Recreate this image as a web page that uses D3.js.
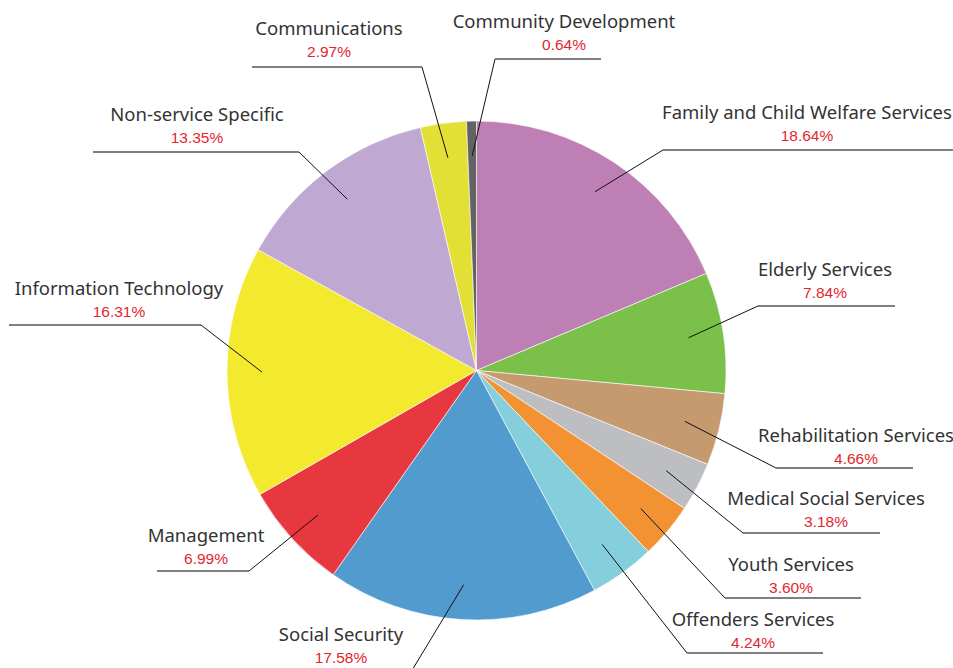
<!DOCTYPE html>
<html>
<head>
<meta charset="utf-8">
<script src="https://cdn.jsdelivr.net/npm/d3@7"></script>
<style>
  html, body { margin: 0; padding: 0; background: #fff; overflow: hidden; }
</style>
</head>
<body>
<svg id="chart" width="953" height="668"></svg>
<script>
// Slices, clockwise from 12 o'clock
const categories = [
  'Family and Child Welfare Services', 'Elderly Services', 'Rehabilitation Services',
  'Medical Social Services', 'Youth Services', 'Offenders Services', 'Social Security',
  'Management', 'Information Technology', 'Non-service Specific', 'Communications',
  'Community Development'
];
const shares = [18.64, 7.84, 4.66, 3.18, 3.60, 4.24, 17.58, 6.99, 16.31, 13.35, 2.97, 0.64];
const colors = [
  '#bd7fb4', '#7bc04b', '#c59a6f', '#bcbec1', '#f29232', '#84cfdb', '#529bcf',
  '#e6383e', '#f3ea2f', '#bfa9d2', '#e2e034', '#636363'
];

// Label placement: horizontal rule (x0..x1 at y), elbow side, text centre tx, text nudge dy
const labelLayout = [
  { x0: 663, x1: 960, y: 150, tx: 807, side: 'r', dy: 0 },
  { x0: 758, x1: 895, y: 306, tx: 825, side: 'r', dy: 1 },
  { x0: 776, x1: 913, y: 468, tx: 856, side: 'r', dy: 5 },
  { x0: 743, x1: 880, y: 533, tx: 826, side: 'r', dy: 2.5 },
  { x0: 725, x1: 861, y: 598, tx: 791, side: 'r', dy: 3.5 },
  { x0: 687, x1: 823, y: 653, tx: 753, side: 'r', dy: 4 },
  { x0: 272, x1: 411, y: 672, tx: 341, side: 'l', dy: 0 },
  { x0: 157, x1: 249, y: 571, tx: 206, side: 'l', dy: 1.5 },
  { x0: 9,   x1: 201, y: 325, tx: 119, side: 'l', dy: 0.5 },
  { x0: 93,  x1: 299, y: 152, tx: 197, side: 'l', dy: 0 },
  { x0: 252, x1: 422, y: 67,  tx: 329, side: 'l', dy: -1 },
  { x0: 495, x1: 601, y: 59,  tx: 564, side: 'r', dy: 0 }
];

const svg = d3.select('#chart');
const cx = 476.5, cy = 370.5, radius = 249.5;

const rows = categories.map((name, i) => ({ name, value: shares[i], color: colors[i], lay: labelLayout[i] }));

const pie = d3.pie().sort(null).value(d => d.value);
const arc = d3.arc().innerRadius(0).outerRadius(radius);
const arcs = pie(rows);

const g = svg.append('g').attr('transform', `translate(${cx},${cy})`);

g.selectAll('path.slice')
  .data(arcs)
  .enter()
  .append('path')
  .attr('class', 'slice')
  .attr('d', arc)
  .attr('fill', d => d.data.color)
  .attr('stroke', '#fff')
  .attr('stroke-width', 0.6);

// Leader lines + labels
const inner = d3.arc().innerRadius(radius * 0.86).outerRadius(radius * 0.86);

const labels = svg.append('g');

arcs.forEach(d => {
  const lay = d.data.lay;
  const c = inner.centroid(d);
  const px = cx + c[0], py = cy + c[1];
  const ex = lay.side === 'r' ? lay.x0 : lay.x1;

  labels.append('line')
    .attr('x1', px).attr('y1', py)
    .attr('x2', ex).attr('y2', lay.y)
    .attr('stroke', '#111')
    .attr('stroke-width', 1);

  labels.append('line')
    .attr('x1', lay.x0).attr('y1', lay.y)
    .attr('x2', lay.x1).attr('y2', lay.y)
    .attr('stroke', '#555')
    .attr('stroke-width', 1.5);

  labels.append('text')
    .attr('x', lay.tx)
    .attr('y', lay.y - 31 + lay.dy)
    .attr('text-anchor', 'middle')
    .style('font-family', '"Noto Sans", "Open Sans", sans-serif')
    .style('font-size', '18.5px')
    .attr('fill', '#333')
    .text(d.data.name);

  labels.append('text')
    .attr('x', lay.tx)
    .attr('y', lay.y - 9 + lay.dy)
    .attr('text-anchor', 'middle')
    .style('font-family', '"Liberation Sans", Arial, sans-serif')
    .style('font-size', '15.5px')
    .attr('fill', '#e3262f')
    .text(d.data.value.toFixed(2) + '%');
});
</script>
</body>
</html>
